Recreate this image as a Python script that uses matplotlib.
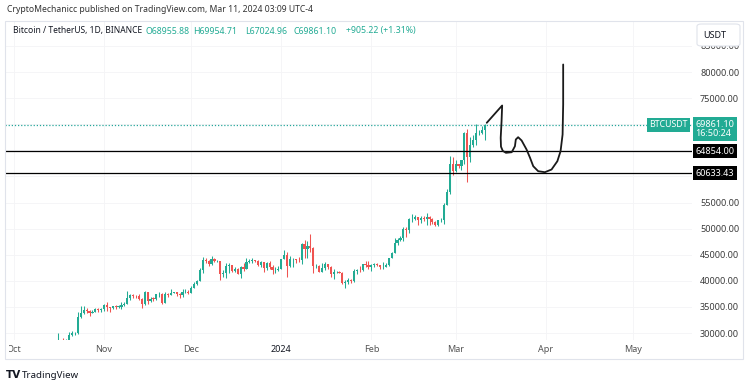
import matplotlib
matplotlib.use('Agg')
import matplotlib.pyplot as plt
import matplotlib.dates as mdates
from matplotlib.patches import Rectangle, FancyBboxPatch
from matplotlib.transforms import blended_transform_factory, Bbox, TransformedBbox
import pandas as pd

# daily BTCUSDT candles, Oct 10 2023 .. Mar 11 2024
dates = pd.date_range('2023-10-10', '2024-03-11', freq='D')
opens = [27590, 27390, 26870, 26760, 26860, 26850, 27150, 28500, 28400, 28320,
         28710, 29680, 29910, 29990, 33070, 33920, 34500, 34150, 33890, 34080,
         34530, 34490, 34650, 35420, 34940, 34730, 35080, 35050, 35050, 35420,
         35620, 36700, 37310, 37130, 37060, 36490, 35550, 37880, 36160, 36590,
         36580, 37380, 37450, 35760, 37420, 37290, 37720, 37800, 37450, 37240,
         37820, 37850, 37710, 38690, 39460, 39970, 41980, 44080, 43770, 43290,
         44170, 43720, 43790, 41240, 41450, 42890, 43020, 41940, 42280, 41370,
         42660, 42270, 43650, 43860, 43990, 43740, 43020, 43610, 42520, 43440,
         42580, 42070, 42140, 42280, 44180, 44950, 42850, 44150, 44160, 43970,
         43930, 46970, 46120, 46660, 46340, 42780, 42840, 41730, 42510, 43140,
         42740, 41260, 41620, 41660, 41580, 39510, 39850, 40080, 39930, 41810,
         42120, 42030, 43300, 42950, 42580, 43080, 43190, 42990, 42580, 42660,
         43090, 44340, 45290, 47150, 47770, 48290, 49960, 49700, 51800, 51910,
         52160, 51660, 52120, 51780, 52260, 51850, 51300, 50740, 51570, 51730,
         54480, 57040, 62430, 61130, 62390, 62030, 63130, 68250, 63720, 66070,
         66880, 68270, 68360, 68955.88]
highs = [27740, 27480, 26940, 27100, 26980, 27290, 30000, 28620, 28990, 28930,
         30200, 30380, 30210, 34000, 35200, 35130, 34840, 34490, 34460, 34770,
         34850, 34720, 35580, 35980, 34940, 35260, 35380, 35280, 35890, 35980,
         37970, 37530, 37400, 37230, 37420, 36770, 37980, 37930, 36850, 36850,
         37500, 37760, 37650, 37860, 37650, 38420, 37890, 37830, 37590, 38380,
         38450, 38170, 38990, 39700, 40230, 42420, 44490, 44300, 44050, 44700,
         44370, 44040, 43850, 42100, 43430, 43420, 43090, 42720, 42430, 42750,
         43500, 44280, 44240, 44400, 44020, 43950, 43800, 43610, 43680, 43800,
         43120, 42600, 42900, 44180, 45900, 45500, 44730, 44340, 44230, 44500,
         47250, 47890, 47700, 48970, 46500, 43260, 43080, 43400, 43580, 43200,
         42930, 42200, 41820, 41880, 41690, 40130, 40550, 40350, 42230, 42200,
         42840, 43300, 43880, 43740, 43290, 43480, 43380, 43120, 43540, 43400,
         44370, 45600, 48200, 48170, 48590, 50330, 50370, 52040, 52820, 52570,
         52190, 52350, 52490, 52980, 52370, 52000, 51550, 51700, 51960, 54940,
         57590, 64000, 63680, 63110, 62430, 63230, 68500, 69000, 67640, 67980,
         69990, 68860, 69570, 69954.71]
lows = [27300, 26540, 26560, 26690, 26820, 26800, 27110, 28100, 28150, 28170,
        28600, 29470, 29680, 29880, 32880, 33690, 33750, 33340, 33870, 34060,
        34080, 34060, 34120, 34300, 34100, 34580, 34530, 34730, 34520, 35120,
        35540, 36320, 36710, 36750, 36340, 34800, 35360, 35500, 35880, 36190,
        36380, 36880, 35630, 35670, 36870, 37250, 37600, 37150, 36750, 36870,
        37600, 37500, 37630, 38650, 39280, 39970, 41420, 43340, 42820, 43080,
        43590, 43570, 40220, 40680, 40610, 41420, 41660, 41680, 41250, 40530,
        41800, 42180, 43330, 43400, 43560, 42760, 42720, 41620, 42100, 42320,
        41300, 41520, 41970, 42180, 44150, 40750, 42630, 42620, 43400, 43600,
        43180, 44300, 44350, 45600, 41500, 42440, 41720, 41720, 42050, 42200,
        40680, 40280, 41430, 41500, 39430, 38560, 39480, 39500, 39800, 41390,
        41620, 41800, 42680, 42280, 41880, 42560, 42900, 42220, 42260, 42570,
        42790, 44330, 45240, 46800, 47550, 47700, 48300, 49250, 51310, 51600,
        50620, 51160, 51500, 50780, 50620, 50950, 50520, 50580, 51280, 50900,
        54450, 56690, 60360, 60780, 61650, 61140, 62300, 59000, 62800, 65550,
        66100, 68020, 68100, 67024.96]
closes = opens[1:] + [69861.10]

# drawn levels and the hand-drawn projection
levels = [64854.00, 60633.43]
sketch_days = [162.7, 168.0, 167.8, 167.5, 167.6, 168.2, 169.3, 171.3, 172.4, 172.7,
               173.5, 174.7, 176.4, 177.6, 178.7, 180.4, 182.7, 185.0, 187.0, 188.1,
               188.8, 189.0, 189.0]
sketch_prices = [70268, 73582, 70575, 67395, 65700, 64900, 64521, 64636, 65785, 67069,
                 67510, 66877, 65153, 63563, 61954, 60996, 60805, 61322, 62912, 64828,
                 68027, 73774, 81437]
sketch_dates = pd.Timestamp('2023-10-01') + pd.to_timedelta(sketch_days, unit='D')

price_ticks = list(range(30000, 85001, 5000))
hidden_ticks = [60000, 65000, 70000]   # covered by the price labels
month_ticks = pd.date_range('2023-10-01', '2024-05-01', freq='MS')
month_labels = ['Oct', 'Nov', 'Dec', '2024', 'Feb', 'Mar', 'Apr', 'May']

green = '#22ab94'
red = '#ef5350'
txt = '#131722'
font = 'Noto Sans'

W, H = 750, 385


def fx(x):
    return x / W


def fy(y):
    return 1 - y / H


fig = plt.figure(figsize=(W / 100, H / 100), dpi=100)
fig.patch.set_facecolor('white')

# outer frame
fig.add_artist(Rectangle((fx(5), fy(359)), (743 - 5) / W, (359 - 21) / H,
                         transform=fig.transFigure, fill=False, ec='#e0e3eb', lw=0.8))

ax = fig.add_axes([fx(5), fy(340), (692 - 5) / W, (340 - 21) / H])
for s in ax.spines.values():
    s.set_visible(False)

x = mdates.date2num(dates)
for xi, o, h, l, c in zip(x, opens, highs, lows, closes):
    col = green if c >= o else red
    ax.vlines(xi, l, h, color=col, lw=0.75, zorder=3)
    ax.bar(xi, max(abs(c - o), 60), bottom=min(o, c), width=0.75,
           color=col, zorder=3, lw=0)

for lv in levels:
    ax.axhline(lv, color='black', lw=0.9, zorder=4)
ax.axhline(closes[-1], color='#26a69a', lw=0.9, ls=(0, (1, 1.5)), zorder=2)
ax.plot(mdates.date2num(sketch_dates), sketch_prices, color='#1a1a1a', lw=1.3,
        solid_joinstyle='round', solid_capstyle='round', zorder=5)

ax.set_xlim(mdates.date2num(pd.Timestamp('2023-09-27 22:00')),
            mdates.date2num(pd.Timestamp('2024-05-21 08:00')))
ax.set_ylim(28660, 89770)

ax.set_xticks(mdates.date2num(month_ticks))
ax.set_xticklabels(month_labels)
ax.yaxis.tick_right()
ax.set_yticks(price_ticks)
ax.set_yticklabels(['' if p in hidden_ticks else '%.2f' % p for p in price_ticks])
ax.tick_params(axis='y', length=0, pad=5.8, labelsize=6.5, labelcolor='#3b3b3b')
ax.tick_params(axis='x', length=0, pad=3.5, labelsize=6.5, labelcolor='#555555')
for lab in ax.get_xticklabels() + ax.get_yticklabels():
    lab.set_fontfamily(font)
xl = ax.get_xticklabels()
xl[3].set_color(txt)
xl[3].set_fontweight('bold')
# the first month label is cut by the chart's left edge
xl[0].set_clip_box(TransformedBbox(Bbox([[fx(8.5), 0], [1, 1]]), fig.transFigure))
xl[0].set_clip_on(True)
ax.grid(True, color='#f4f4f6', lw=0.6, zorder=0)

# price axis labels
tr = blended_transform_factory(ax.transAxes, ax.transData)
for lv in levels:
    ax.annotate('%.2f' % lv, xy=(1, lv), xycoords=tr, xytext=(2.6, 0),
                textcoords='offset points', ha='left', va='center', color='white',
                fontsize=6.5, family=font, zorder=6,
                bbox=dict(boxstyle='square,pad=0.3', fc='black', ec='none'))
ax.annotate('%.2f\n16:50:24' % closes[-1], xy=(1, closes[-1]), xycoords=tr,
            xytext=(2.6, 3.6), textcoords='offset points', ha='left', va='top',
            color='white', fontsize=6.5, family=font, linespacing=1.0, zorder=6,
            bbox=dict(boxstyle='square,pad=0.3', fc=green, ec='none'))
ax.annotate('BTCUSDT', xy=(1, closes[-1]), xycoords=tr, xytext=(-3, 0),
            textcoords='offset points', ha='right', va='center', color='white',
            fontsize=6.3, family=font, fontweight='bold', zorder=6,
            bbox=dict(boxstyle='square,pad=0.25', fc=green, ec='none'))

# USDT box over the top price label
fig.add_artist(FancyBboxPatch((fx(697), fy(46)), (740 - 697) / W, (46 - 24) / H,
                              boxstyle='round,pad=0,rounding_size=0.006',
                              transform=fig.transFigure, fc='white', ec='#e0e3eb', lw=0.8))
fig.text(fx(703), fy(35.5), 'USDT', ha='left', va='center', fontsize=6.5,
         family=font, color=txt)

# header texts
fig.text(fx(7), fy(10), 'CryptoMechanicc published on TradingView.com, Mar 11, 2024 03:09 UTC-4',
         ha='left', va='center', fontsize=6.2, family=font, color='#333333')
fig.text(fx(13), fy(31), 'Bitcoin / TetherUS, 1D, BINANCE', ha='left', va='center',
         fontsize=6.1, family=font, color=txt)
legend = [(146, 'O68955.88'), (193, 'H69954.71'), (245, 'L67024.96'),
          (293, 'C69861.10'), (346, '+905.22 (+1.31%)')]
for px, s in legend:
    fig.text(fx(px), fy(31), s, ha='left', va='center', fontsize=6.3, family=font,
             color=green)

# footer
fig.text(fx(6), fy(375), 'TV', ha='left', va='center', fontsize=7.5,
         family='DejaVu Sans', fontweight='heavy', color=txt)
fig.text(fx(22), fy(375), 'TradingView', ha='left', va='center', fontsize=7,
         family=font, color=txt)

fig.savefig('out.png', dpi=100, facecolor='white')
